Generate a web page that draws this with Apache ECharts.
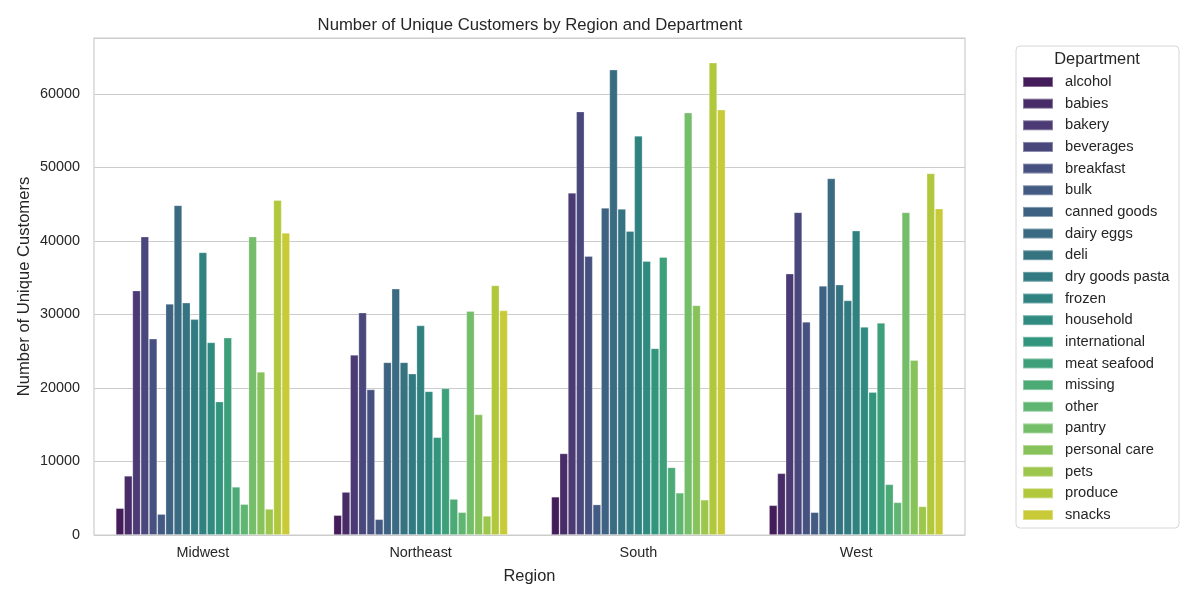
<!DOCTYPE html>
<html>
<head>
<meta charset="utf-8">
<script src="https://cdn.jsdelivr.net/npm/echarts@6/dist/echarts.min.js"></script>
<style>
  html, body { margin: 0; padding: 0; background: #fff; }
  #main { width: 1200px; height: 600px; }
</style>
</head>
<body>
<div id="main"></div>
<script>
var regions = ['Midwest', 'Northeast', 'South', 'West'];
var departments = ['alcohol', 'babies', 'bakery', 'beverages', 'breakfast', 'bulk',
  'canned goods', 'dairy eggs', 'deli', 'dry goods pasta', 'frozen', 'household',
  'international', 'meat seafood', 'missing', 'other', 'pantry', 'personal care',
  'pets', 'produce', 'snacks'];

// unique customers per department, one array per region (same order as departments)
var midwest = [3650, 8050, 33250, 40600, 26700, 2850, 31450, 44850, 31600, 29350, 38450,
  26200, 18150, 26850, 6550, 4200, 40600, 22200, 3550, 45550, 41100];
var northeast = [2700, 5850, 24500, 30250, 19800, 2150, 23500, 33500, 23500, 21950, 28500,
  19550, 13300, 19950, 4900, 3100, 30450, 16400, 2600, 33950, 30550];
var south = [5200, 11100, 46550, 57600, 37950, 4150, 44500, 63300, 44350, 41350, 54300,
  37250, 25400, 37800, 9200, 5750, 57450, 31250, 4800, 64250, 57850];
var west = [4050, 8400, 35550, 43900, 29000, 3100, 33900, 48500, 34050, 31900, 41400,
  28300, 19450, 28850, 6900, 4450, 43900, 23800, 3900, 49200, 44400];

var yTicks = [0, 10000, 20000, 30000, 40000, 50000, 60000];

// viridis, sampled like seaborn and desaturated to 0.75
var viridisStops = ['#440154', '#481a6c', '#472f7d', '#414487', '#39568c', '#31688e',
  '#2a788e', '#23888e', '#1f988b', '#22a884', '#35b779', '#54c568', '#7ad151',
  '#a5db36', '#d2e21b', '#fde725'];

function hexToRgb(h) {
  return [parseInt(h.substr(1, 2), 16), parseInt(h.substr(3, 2), 16), parseInt(h.substr(5, 2), 16)];
}

function viridis(t) {
  var p = t * (viridisStops.length - 1);
  var i = Math.min(Math.floor(p), viridisStops.length - 2);
  var f = p - i;
  var a = hexToRgb(viridisStops[i]), b = hexToRgb(viridisStops[i + 1]);
  return [0, 1, 2].map(function (k) { return (a[k] + (b[k] - a[k]) * f) / 255; });
}

function desaturate(rgb, prop) {
  var r = rgb[0], g = rgb[1], b = rgb[2];
  var max = Math.max(r, g, b), min = Math.min(r, g, b);
  var l = (max + min) / 2, s = 0, h = 0;
  if (max !== min) {
    var d = max - min;
    s = l > 0.5 ? d / (2 - max - min) : d / (max + min);
    if (max === r) h = ((g - b) / d) % 6;
    else if (max === g) h = (b - r) / d + 2;
    else h = (r - g) / d + 4;
    h /= 6;
  }
  s *= prop;
  function hue2rgb(p, q, t) {
    if (t < 0) t += 1;
    if (t > 1) t -= 1;
    if (t < 1 / 6) return p + (q - p) * 6 * t;
    if (t < 1 / 2) return q;
    if (t < 2 / 3) return p + (q - p) * (2 / 3 - t) * 6;
    return p;
  }
  var q = l < 0.5 ? l * (1 + s) : l + s - l * s;
  var p = 2 * l - q;
  var out = [hue2rgb(p, q, h + 1 / 3), hue2rgb(p, q, h), hue2rgb(p, q, h - 1 / 3)];
  return 'rgb(' + out.map(function (v) { return Math.round(v * 255); }).join(',') + ')';
}

var colors = departments.map(function (d, i) {
  return desaturate(viridis((i + 1) / (departments.length + 1)), 0.75);
});

var series = departments.map(function (d, i) {
  return {
    name: d,
    type: 'bar',
    data: [midwest[i], northeast[i], south[i], west[i]],
    barGap: '0%',
    barCategoryGap: '20%',
    itemStyle: {
      color: colors[i],
      borderColor: 'rgba(255,255,255,0.35)',
      borderWidth: 0.8
    }
  };
});

var fontFamily = '"Liberation Sans", Arial, sans-serif';
var textColor = '#262626';

var chart = echarts.init(document.getElementById('main'));
chart.setOption({
  animation: false,
  textStyle: { fontFamily: fontFamily, color: textColor },
  title: {
    text: 'Number of Unique Customers by Region and Department',
    left: 525, top: 12, textAlign: 'center',
    textStyle: { fontSize: 16.7, fontWeight: 'normal', color: textColor, fontFamily: fontFamily }
  },
  grid: {
    left: 94, right: 235, top: 38, bottom: 65,
    show: true, borderColor: '#cccccc', borderWidth: 1.2
  },
  legend: {
    orient: 'vertical',
    left: 1022, top: 74,
    icon: 'rect',
    itemWidth: 30, itemHeight: 10, itemGap: 5.65,
    selectedMode: false,
    padding: 0,
    textStyle: { fontSize: 14.7, lineHeight: 16, color: textColor, fontFamily: fontFamily, padding: [0, 0, 0, 7] },
    data: departments
  },
  graphic: [
    {
      type: 'rect',
      shape: { x: 1016, y: 46, width: 163, height: 482, r: 4 },
      style: { fill: '#fff', stroke: '#d6d6d6', lineWidth: 1 },
      z: -1
    },
    {
      type: 'text',
      x: 1097, y: 59,
      style: {
        text: 'Department', fontSize: 16.4, fontFamily: fontFamily, fill: textColor,
        textAlign: 'center', textVerticalAlign: 'middle'
      }
    }
  ],
  xAxis: {
    type: 'category',
    data: regions,
    name: 'Region',
    nameLocation: 'middle',
    nameGap: 33,
    nameTextStyle: { fontSize: 16.4, color: textColor, fontFamily: fontFamily },
    axisLine: { show: false },
    axisTick: { show: false },
    axisLabel: { fontSize: 14.4, color: textColor, margin: 11 }
  },
  yAxis: {
    type: 'value',
    min: 0, max: 67600, interval: 10000,
    name: 'Number of Unique Customers',
    nameLocation: 'middle',
    nameGap: 61,
    nameMoveOverlap: false,
    nameTextStyle: { fontSize: 16.6, color: textColor, fontFamily: fontFamily },
    axisLine: { show: false },
    axisTick: { show: false },
    axisLabel: {
      fontSize: 14.4, color: textColor, margin: 14,
      formatter: function (v) { return yTicks.indexOf(v) >= 0 ? String(v) : ''; }
    },
    splitLine: { lineStyle: { color: '#cccccc', width: 1.2 } }
  },
  series: series
});
</script>
</body>
</html>
